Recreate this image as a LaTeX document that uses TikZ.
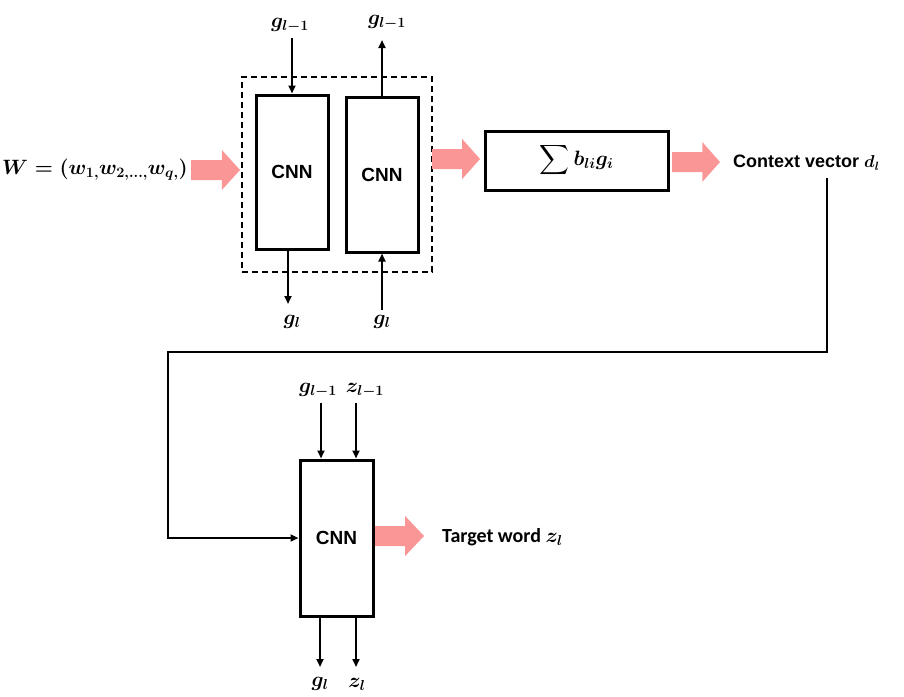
\documentclass[tikz,border=0pt]{standalone}
\usepackage{amsmath}
\usepackage{fontspec}
\usepackage{bm}
\setsansfont{Liberation Sans}
\newfontfamily\calib{Carlito}
\usetikzlibrary{arrows.meta}
\definecolor{pinkar}{RGB}{250,150,150}
\newcommand\pinkarr[3]{% x, y, length
  \fill[pinkar] (#1,#2-10) -- (#1+#3*0.63,#2-10) -- (#1+#3*0.63,#2-20) -- (#1+#3,#2)
    -- (#1+#3*0.63,#2+20) -- (#1+#3*0.63,#2+10) -- (#1,#2+10) -- cycle;}
\begin{document}
\begin{tikzpicture}[x=1pt,y=-1pt,
  cnnbox/.style={draw,line width=3pt,minimum width=72pt,inner sep=0pt,
     font=\sffamily\bfseries\fontsize{19}{22}\selectfont},
  mlab/.style={font=\fontsize{20}{24}\selectfont\boldmath,inner sep=0pt},
  conn/.style={line width=2pt,-{Triangle[length=8pt,width=7pt]}},
  txtlab/.style={anchor=west,inner sep=0pt}]
\useasboundingbox (0,0) rectangle (904,696);
% top group
\node[draw,dash pattern=on 6pt off 4pt,line width=1.6pt,minimum width=190pt,minimum height=195pt,inner sep=0pt] (grp) at (337,174.5) {};
\node[cnnbox,minimum height=154pt] (cnnA) at (292,172) {CNN};
\node[cnnbox,minimum height=155pt] (cnnB) at (382,174.5) {CNN};
\node[mlab] (w) at (95,170) {$W=(w_{1,}w_{2,\dots,}w_{q,})$};
\node[mlab,draw,line width=3pt,minimum width=183pt,minimum height=59pt] (sum) at (576.5,160.5) {$\displaystyle\sum b_{li}g_i$};
\node[txtlab,font=\sffamily\bfseries\fontsize{18}{22}\selectfont] (ctx) at (733,163) {Context vector $\bm{d}_{\bm{l}}$};
% labels top
\node[mlab] (ga1) at (290,25) {$g_{l-1}$};
\node[mlab] (gb1) at (387,22) {$g_{l-1}$};
\node[mlab] (ga2) at (292,322) {$g_l$};
\node[mlab] (gb2) at (382,322) {$g_l$};
\coordinate (ga1e) at (292,38);
\coordinate (gb1e) at (382,40);
\coordinate (ga2e) at (288,304);
\coordinate (gb2e) at (382,310);
\draw[conn] (ga1e) -- (ga1e |- cnnA.north);
\draw[conn] (gb1e |- cnnB.north) -- (gb1e);
\draw[conn] (ga2e |- cnnA.south) -- (ga2e);
\draw[conn] (gb2e) -- (gb2e |- cnnB.south);
% pink arrows
\pinkarr{191}{170}{49}
\pinkarr{432}{159}{48}
\pinkarr{672}{162}{48}
\pinkarr{373}{536}{51}
% lower
\node[cnnbox,minimum width=73pt,minimum height=156pt] (cnnC) at (336.5,538) {CNN};
\node[txtlab,font=\calib\bfseries\fontsize{20}{24}\selectfont] (tw) at (442,537) {Target word $\bm{z}_{\bm{l}}$};
\node[mlab] (gc1) at (318,390) {$g_{l-1}$};
\node[mlab] (zc1) at (365,390) {$z_{l-1}$};
\node[mlab] (gc2) at (320,684) {$g_l$};
\node[mlab] (zc2) at (357,684) {$z_l$};
\coordinate (gc1e) at (321,403);
\coordinate (zc1e) at (356,403);
\coordinate (gc2e) at (320,667);
\coordinate (zc2e) at (356,667);
\draw[conn] (gc1e) -- (gc1e |- cnnC.north);
\draw[conn] (zc1e) -- (zc1e |- cnnC.north);
\draw[conn] (gc2e |- cnnC.south) -- (gc2e);
\draw[conn] (zc2e |- cnnC.south) -- (zc2e);
% long connector
\coordinate (cs) at (827,178);
\coordinate (cm) at (827,352);
\coordinate (cl) at (168,352);
\draw[conn] (cs) -- (cm) -- (cl) |- (cnnC.west);
\end{tikzpicture}
\end{document}
